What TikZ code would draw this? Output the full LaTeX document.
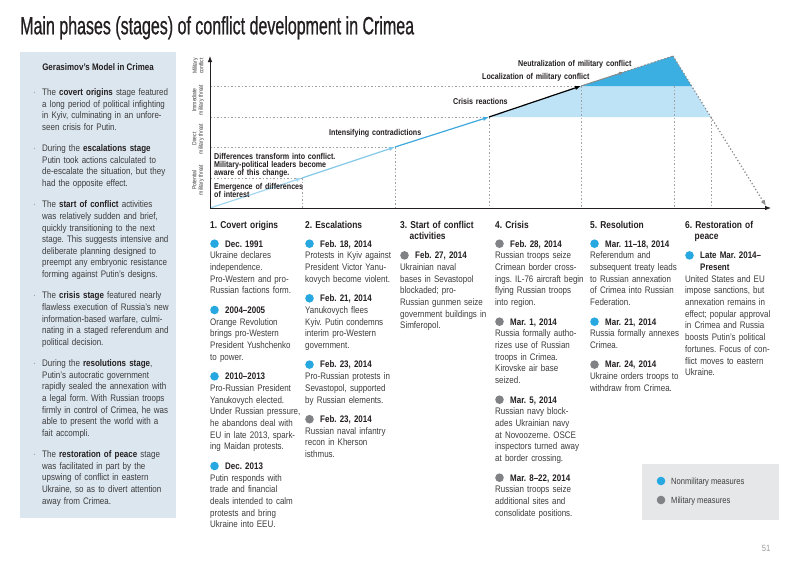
\documentclass[tikz,border=0pt]{standalone}
\usepackage{fontspec}
\setmainfont{Liberation Sans}[FakeStretch=0.84]
\newfontfamily\titlefont{Liberation Sans}[FakeStretch=0.64,FakeBold=0.7]
\usetikzlibrary{arrows.meta}
\definecolor{dotblue}{HTML}{27A8E0}
\definecolor{dotgray}{HTML}{808285}
\definecolor{inktext}{HTML}{231F20}
\definecolor{bodytext}{HTML}{3D3D3D}
\definecolor{sidebg}{HTML}{DCE6EF}
\definecolor{legendbg}{HTML}{E6E7E8}
\definecolor{fillpale}{HTML}{BEE3F6}
\definecolor{filldeep}{HTML}{3BAFE2}
\definecolor{segA}{HTML}{A3D8F1}
\definecolor{segB}{HTML}{7FC9EC}
\definecolor{segC}{HTML}{3FA9DE}
\definecolor{gridgray}{HTML}{A0A0A0}
\definecolor{pagegray}{HTML}{9A9A9A}
\definecolor{peakgray}{HTML}{8A8A8A}
\newcommand{\nmdot}{\tikz[baseline=-3.3pt]\fill[dotblue] (0,0) circle[radius=4.3pt];}
\newcommand{\mldot}{\tikz[baseline=-3.3pt]\fill[dotgray] (0,0) circle[radius=4.3pt];}
\newcommand{\hd}[1]{{\fontsize{10}{11.7}\selectfont\bfseries\color{inktext}#1}}
\newcommand{\ev}[2]{\makebox[15pt][l]{#1}{\bfseries\color{inktext}#2}}
\newcommand{\kw}[1]{{\bfseries\color{inktext}#1}}
\newcommand{\bul}{\leavevmode\llap{{\color{dotgray}·}\hspace{6.5pt}}}
\begin{document}
\frenchspacing
\begin{tikzpicture}[x=1pt,y=-1pt,
  col/.style={anchor=base west, inner sep=0pt, align=left, text width=125pt, font={\fontsize{9.5}{11.7}\selectfont}, text=bodytext},
  side/.style={anchor=base west, inner sep=0pt, align=left, text width=140pt, font={\fontsize{9.5}{11.6}\selectfont}, text=bodytext},
  chartlbl/.style={anchor=base west, inner sep=0pt, align=left, text width=150pt, font={\fontsize{8.5}{8}\selectfont\bfseries}, text=inktext},
  axislbl/.style={rotate=90, inner sep=0pt, align=center, font={\fontsize{6}{6.5}\selectfont}, text=bodytext},
  grid/.style={draw=gridgray, line width=0.6pt, dash pattern=on 1.6pt off 1.9pt},
  axisline/.style={draw=inktext, line width=0.8pt, -{Latex[length=6pt,width=4.5pt]}},
  seg/.style={line width=1.2pt, -{Latex[length=6pt,width=4.5pt]}},
  legdot/.style={circle, inner sep=0pt, minimum size=8.6pt},
  legtxt/.style={anchor=base west, inner sep=0pt, font={\fontsize{9}{11}\selectfont}, text=bodytext}
]
\useasboundingbox (0,0) rectangle (800,565);
\fill[white] (0,0) rectangle (800,565);

% title
\node[anchor=base west, inner sep=0pt, font={\titlefont\fontsize{25}{28}\selectfont}, text=inktext] (title) at (20,34.3) {Main phases (stages) of conflict development in Crimea};

% sidebar
\node[fill=sidebg, anchor=north west, minimum width=156pt, minimum height=466pt, inner sep=0pt] (sidebox) at (20,52) {};
\node[anchor=base, inner sep=0pt, font={\fontsize{9.5}{11}\selectfont\bfseries}, text=inktext] (sidehead) at (98,70.5) {Gerasimov’s Model in Crimea};
\node[side] (sidetext) at (42,95.5) {\bul The \kw{covert origins} stage featured\\
a long period of political infighting\\
in Kyiv, culminating in an unfore-\\
seen crisis for Putin.\\[9.8pt]
\bul During the \kw{escalations stage}\\
Putin took actions calculated to\\
de-escalate the situation, but they\\
had the opposite effect.\\[9.8pt]
\bul The \kw{start of conflict} activities\\
was relatively sudden and brief,\\
quickly transitioning to the next\\
stage. This suggests intensive and\\
deliberate planning designed to\\
preempt any embryonic resistance\\
forming against Putin’s designs.\\[9.8pt]
\bul The \kw{crisis stage} featured nearly\\
flawless execution of Russia’s new\\
information-based warfare, culmi-\\
nating in a staged referendum and\\
political decision.\\[9.8pt]
\bul During the \kw{resolutions stage},\\
Putin’s autocratic government\\
rapidly sealed the annexation with\\
a legal form. With Russian troops\\
firmly in control of Crimea, he was\\
able to present the world with a\\
fait accompli.\\[9.8pt]
\bul The \kw{restoration of peace} stage\\
was facilitated in part by the\\
upswing of conflict in eastern\\
Ukraine, so as to divert attention\\
away from Crimea.};

% chart coordinates
\coordinate (O) at (210,208);
\coordinate (ytop) at (210,56);
\coordinate (xend) at (771,208);
\coordinate (p1) at (302,178);
\coordinate (p2) at (395,147);
\coordinate (p3) at (489,117);
\coordinate (p4) at (581,86);
\coordinate (g1) at (624,72);
\coordinate (apex) at (673,56);
\coordinate (q1) at (691.6,86);
\coordinate (q2) at (710.8,117);
\coordinate (v5) at (674,86);
\coordinate (dend) at (766,206);

% fills
\fill[fillpale] (p3) -- (p4) -- (q1) -- (q2) -- cycle;
\fill[filldeep] (p4) -- (apex) -- (q1) -- cycle;

% grid
\draw[grid] (O |- p1) -- (p1);
\draw[grid] (O |- p2) -- (p2);
\draw[grid] (O |- p3) -- (p3);
\draw[grid] (O |- p4) -- (p4);
\draw[grid] (p1) -- (p1 |- O);
\draw[grid] (p2) -- (p2 |- O);
\draw[grid] (p3) -- (p3 |- O);
\draw[grid] (p4) -- (p4 |- O);
\draw[grid] (v5) -- (v5 |- O);
\draw[grid] (q2) -- (q2 |- O);

% development line
\draw[seg, segA] (O) -- (p1);
\draw[seg, segB] (p1) -- (p2);
\draw[seg, segC] (p2) -- (p3);
\draw[seg, black] (p3) -- (p4);
\draw[line width=1pt, peakgray, -{Latex[length=5pt,width=4pt]}] (p4) -- (g1);
\draw[line width=1pt, peakgray, dash pattern=on 2pt off 1.5pt] (g1) -- (apex);
\draw[line width=1.3pt, peakgray, dash pattern=on 1.2pt off 2.2pt, -{Latex[length=6pt,width=4.5pt]}] (apex) -- (dend);

% axes
\draw[axisline] (O) -- (ytop);
\draw[axisline] (O) -- (xend);

% axis labels
\node[axislbl] (ylab1) at (198,180) {Potential\\military threat};
\node[axislbl] (ylab2) at (198,139) {Direct\\military threat};
\node[axislbl] (ylab3) at (198,100) {Immediate\\military threat};
\node[axislbl] (ylab4) at (198,66) {Military\\conflict};

% chart labels
\node[chartlbl] (lab1) at (214,189) {Emergence of differences\\of interest};
\node[chartlbl] (lab2) at (214,159) {Differences transform into conflict.\\Military-political leaders become\\aware of this change.};
\node[chartlbl] (lab3) at (329,135) {Intensifying contradictions};
\node[chartlbl] (lab4) at (453,104) {Crisis reactions};
\node[chartlbl] (lab5) at (482,79) {Localization of military conflict};
\node[chartlbl] (lab6) at (518,66) {Neutralization of military conflict};

% columns
\node[col] (col1) at (210,228) {\hd{1. Covert origins}\\[7.3pt]
\ev\nmdot{Dec. 1991}\\
Ukraine declares\\
independence.\\
Pro-Western and pro-\\
Russian factions form.\\[7.8pt]
\ev\nmdot{2004–2005}\\
Orange Revolution\\
brings pro-Western\\
President Yushchenko\\
to power.\\[7.8pt]
\ev\nmdot{2010–2013}\\
Pro-Russian President\\
Yanukovych elected.\\
Under Russian pressure,\\
he abandons deal with\\
EU in late 2013, spark-\\
ing Maidan protests.\\[7.8pt]
\ev\nmdot{Dec. 2013}\\
Putin responds with\\
trade and financial\\
deals intended to calm\\
protests and bring\\
Ukraine into EEU.};

\node[col] (col2) at (305,228) {\hd{2. Escalations}\\[7.3pt]
\ev\nmdot{Feb. 18, 2014}\\
Protests in Kyiv against\\
President Victor Yanu-\\
kovych become violent.\\[7.8pt]
\ev\nmdot{Feb. 21, 2014}\\
Yanukovych flees\\
Kyiv. Putin condemns\\
interim pro-Western\\
government.\\[7.8pt]
\ev\nmdot{Feb. 23, 2014}\\
Pro-Russian protests in\\
Sevastopol, supported\\
by Russian elements.\\[7.8pt]
\ev\mldot{Feb. 23, 2014}\\
Russian naval infantry\\
recon in Kherson\\
isthmus.};

\node[col] (col3) at (400,228) {\hd{3. Start of conflict\\\hspace*{9.5pt}activities}\\[7.3pt]
\ev\mldot{Feb. 27, 2014}\\
Ukrainian naval\\
bases in Sevastopol\\
blockaded; pro-\\
Russian gunmen seize\\
government buildings in\\
Simferopol.};

\node[col] (col4) at (495,228) {\hd{4. Crisis}\\[7.3pt]
\ev\mldot{Feb. 28, 2014}\\
Russian troops seize\\
Crimean border cross-\\
ings. IL-76 aircraft begin\\
flying Russian troops\\
into region.\\[7.8pt]
\ev\mldot{Mar. 1, 2014}\\
Russia formally autho-\\
rizes use of Russian\\
troops in Crimea.\\
Kirovske air base\\
seized.\\[7.8pt]
\ev\mldot{Mar. 5, 2014}\\
Russian navy block-\\
ades Ukrainian navy\\
at Novoozerne. OSCE\\
inspectors turned away\\
at border crossing.\\[7.8pt]
\ev\mldot{Mar. 8–22, 2014}\\
Russian troops seize\\
additional sites and\\
consolidate positions.};

\node[col] (col5) at (590,228) {\hd{5. Resolution}\\[7.3pt]
\ev\nmdot{Mar. 11–18, 2014}\\
Referendum and\\
subsequent treaty leads\\
to Russian annexation\\
of Crimea into Russian\\
Federation.\\[7.8pt]
\ev\nmdot{Mar. 21, 2014}\\
Russia formally annexes\\
Crimea.\\[7.8pt]
\ev\mldot{Mar. 24, 2014}\\
Ukraine orders troops to\\
withdraw from Crimea.};

\node[col] (col6) at (685,228) {\hd{6. Restoration of\\\hspace*{9.5pt}peace}\\[7.3pt]
\ev\nmdot{Late Mar. 2014–}\\
\hspace*{15pt}{\bfseries\color{inktext}Present}\\
United States and EU\\
impose sanctions, but\\
annexation remains in\\
effect; popular approval\\
in Crimea and Russia\\
boosts Putin’s political\\
fortunes. Focus of con-\\
flict moves to eastern\\
Ukraine.};

% legend
\node[fill=legendbg, anchor=north west, minimum width=137pt, minimum height=56pt, inner sep=0pt] (legend) at (642,464) {};
\node[legdot, fill=dotblue] (legnm) at (661,481) {};
\node[legdot, fill=dotgray] (legml) at (661,500) {};
\node[legtxt] (legnmtxt) at (671,484.3) {Nonmilitary measures};
\node[legtxt] (legmltxt) at (671,503.3) {Military measures};

% page number
\node[inner sep=0pt, font={\fontsize{9}{10}\selectfont}, text=pagegray] (pnum) at (766,548) {51};
\end{tikzpicture}
\end{document}
